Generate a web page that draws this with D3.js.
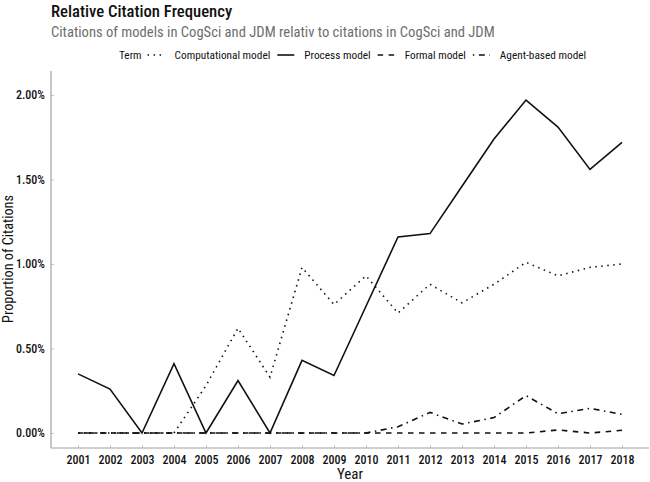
<!DOCTYPE html>
<html>
<head>
<meta charset="utf-8">
<script src="https://cdn.jsdelivr.net/npm/d3@7"></script>
<style>
  body { margin: 0; background: #fff; }
  svg { font-family: "Roboto Condensed", Roboto, "Liberation Sans", sans-serif; }
</style>
</head>
<body>
<svg id="chart" width="650" height="482"></svg>
<script>
const years = [2001, 2002, 2003, 2004, 2005, 2006, 2007, 2008, 2009, 2010, 2011, 2012, 2013, 2014, 2015, 2016, 2017, 2018];

const computational = [0, 0, 0, 0, 0.0028, 0.0062, 0.0033, 0.0098, 0.0076, 0.0093, 0.0071, 0.0088, 0.0077, 0.0088, 0.0101, 0.0093, 0.0098, 0.0100];
const process = [0.0035, 0.0026, 0, 0.0041, 0, 0.0031, 0, 0.0043, 0.0034, 0.0075, 0.0116, 0.0118, 0.0146, 0.0174, 0.0197, 0.0181, 0.0156, 0.0172];
const formal = [0, 0, 0, 0, 0, 0, 0, 0, 0, 0, 0, 0, 0, 0, 0, 0.00018, 0, 0.00016];
const agentBased = [0, 0, 0, 0, 0, 0, 0, 0, 0, 0, 0.00037, 0.00122, 0.00053, 0.00091, 0.00221, 0.00114, 0.00146, 0.0011];

const terms = ["Computational model", "Process model", "Formal model", "Agent-based model"];
const seriesValues = [computational, process, formal, agentBased];
const yTicks = [0, 0.005, 0.01, 0.015, 0.02];

const title = "Relative Citation Frequency";
const subtitle = "Citations of models in CogSci and JDM relativ to citations in CogSci and JDM";

const svg = d3.select("#chart");

const panel = {left: 51, right: 649, top: 71, bottom: 448};

const x = d3.scaleLinear()
  .domain([years[0], years[years.length - 1]])
  .range([78, 622]);

const y = d3.scaleLinear()
  .domain([0, 0.02])
  .range([433, 95]);

// dotted, solid, dashed, dotdash
const dashes = d3.scaleOrdinal()
  .domain(terms)
  .range(["1.5,4.5", null, "5.5,5.5", "1.5,4.5,6,4.5"]);

// titles
svg.append("text")
  .attr("x", 51).attr("y", 17)
  .style("font-size", "16.7px").style("font-weight", 500)
  .attr("fill", "#111")
  .text(title);

svg.append("text")
  .attr("x", 51).attr("y", 37)
  .style("font-size", "14.6px")
  .attr("fill", "#6e6e6e")
  .text(subtitle);

// axes
const xAxis = svg.append("g")
  .attr("transform", `translate(0,${panel.bottom})`)
  .call(d3.axisBottom(x).tickValues(years).tickFormat(d3.format("d")).tickSize(-3).tickPadding(7));

const yAxis = svg.append("g")
  .attr("transform", `translate(${panel.left},0)`)
  .call(d3.axisLeft(y).tickValues(yTicks).tickFormat(d3.format(".2%")).tickSize(-3).tickPadding(6));

[xAxis, yAxis].forEach(ax => {
  ax.select(".domain").remove();
  ax.selectAll(".tick line").attr("stroke", "#c8c8c8");
  ax.selectAll(".tick text")
    .attr("fill", "#111")
    .style("font-size", "12px")
    .style("font-weight", 500)
    .style("font-family", "'Roboto Condensed', Roboto, sans-serif");
});

svg.append("line")
  .attr("x1", panel.left).attr("x2", panel.right)
  .attr("y1", panel.bottom).attr("y2", panel.bottom)
  .attr("stroke", "#a0a0a0").attr("stroke-width", 1.2);

svg.append("line")
  .attr("x1", panel.left).attr("x2", panel.left)
  .attr("y1", panel.top).attr("y2", panel.bottom)
  .attr("stroke", "#a0a0a0").attr("stroke-width", 1.2);

svg.append("text")
  .attr("x", (panel.left + panel.right) / 2).attr("y", 479)
  .attr("text-anchor", "middle")
  .style("font-size", "15px")
  .attr("fill", "#111")
  .text("Year");

svg.append("text")
  .attr("transform", `translate(13,259) rotate(-90)`)
  .attr("text-anchor", "middle")
  .style("font-size", "14.2px")
  .attr("fill", "#111")
  .text("Proportion of Citations");

// lines
const line = d3.line()
  .x((d, i) => x(years[i]))
  .y(d => y(d));

svg.append("g")
  .selectAll("path")
  .data(terms)
  .join("path")
  .attr("d", (t, i) => line(seriesValues[i]))
  .attr("fill", "none")
  .attr("stroke", "#111")
  .attr("stroke-width", 1.6)
  .attr("stroke-dasharray", t => dashes(t));

// legend, laid out left to right from measured text widths
const legend = svg.append("g").attr("transform", "translate(0,55)");

let cursor = 119;
const termLabel = legend.append("text")
  .attr("x", cursor).attr("y", 4)
  .style("font-size", "11.3px")
  .attr("fill", "#111")
  .text("Term");
cursor += termLabel.node().getComputedTextLength() + 6;

terms.forEach(t => {
  legend.append("line")
    .attr("x1", cursor).attr("x2", cursor + 17)
    .attr("y1", 0).attr("y2", 0)
    .attr("stroke", "#111")
    .attr("stroke-width", 1.6)
    .attr("stroke-dasharray", dashes(t));
  cursor += 17 + 10;
  const lab = legend.append("text")
    .attr("x", cursor).attr("y", 4)
    .style("font-size", "11.3px")
    .attr("fill", "#111")
    .text(t);
  cursor += lab.node().getComputedTextLength() + 7;
});
</script>
</body>
</html>
